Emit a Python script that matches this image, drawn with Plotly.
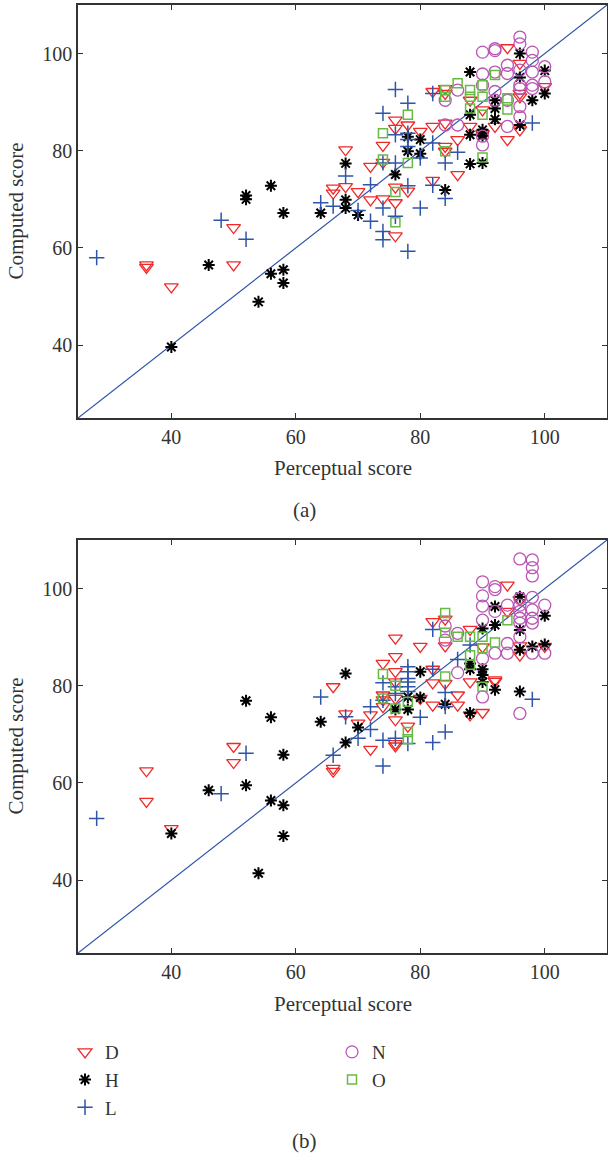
import plotly.graph_objects as go

# ---------------- data: panel (a) ----------------
a_D_x = [36, 36, 40, 50, 50, 66, 66, 68, 68, 70, 72, 72, 74, 74, 74, 76, 76, 76, 76, 76, 78, 78, 80, 82, 82, 82,
         84, 84, 84, 84, 84, 86, 86, 88, 88, 90, 90, 92, 94, 94, 96, 96, 96, 96, 100]
a_D_y = [56.5, 56, 52, 64.2, 56.5, 72.3, 71.3, 80.2, 72.6, 71.6, 76.8, 69.9, 81.1, 77.6, 70.1, 86.3, 84.6, 72.5, 69.3, 62.5,
         85.3, 71.7, 84, 85, 92.2, 73.9, 92.8, 91.8, 85.7, 80.9, 79.9, 82.3, 75.1, 90.4, 85, 88.4, 83.5, 85, 101.2, 82.3,
         98, 91.8, 91.1, 84.3, 93.2]
a_H_x = [40, 46, 52, 52, 54, 56, 56, 58, 58, 58, 64, 68, 68, 68, 70, 76, 78, 78, 80, 80, 84, 88, 88, 88, 88,
         90, 90, 90, 90, 92, 92, 92, 96, 96, 96, 98, 100, 100]
a_H_y = [39.6, 56.5, 70, 70.8, 48.9, 72.8, 54.7, 67.2, 55.5, 52.8, 67.2, 77.4, 69.9, 68.2, 66.8, 75.1, 82.9, 79.9, 82.3, 79.4,
         71.9, 96.2, 87.4, 83.3, 77.3, 84.3, 83.6, 83.1, 77.5, 90.4, 88.7, 86.5, 100, 95.1, 85.3, 90.4, 96.5, 91.8]
a_L_x = [28, 48, 52, 64, 66, 68, 70, 72, 72, 74, 74, 74, 74, 74, 76, 76, 76, 76, 78, 78, 78, 78, 78, 78, 80, 80,
         82, 82, 82, 84, 84, 86, 98]
a_L_y = [58, 65.7, 61.8, 69.3, 68.6, 74.8, 67.7, 73, 65.5, 87.7, 77.5, 68.2, 63.4, 61.7, 92.6, 83.3, 77.5, 66.5,
         89.8, 83.6, 82.3, 80.9, 72.8, 59.3, 78.5, 68.2, 91.8, 81.6, 72.9, 77.5, 70.2, 79.7, 85.7]
a_N_x = [84, 84, 86, 86, 90, 90, 90, 90, 90, 92, 92, 92, 92, 92, 94, 94, 94, 94, 96, 96, 96, 96, 96, 96, 96,
         98, 98, 98, 98, 98, 100, 100]
a_N_y = [90.4, 85.3, 92.5, 85.3, 100.3, 95.8, 93.5, 83, 81.2, 101, 100.6, 96.2, 92.2, 90.4, 97.6, 95.9, 90.4, 85,
         103.4, 102, 96.6, 93.5, 92.8, 89.1, 87, 100.3, 98.6, 96.2, 93.5, 92.8, 97.3, 94.2]
a_O_x = [74, 74, 76, 76, 78, 78, 84, 84, 84, 86, 88, 88, 88, 90, 90, 90, 90, 92, 94, 94]
a_O_y = [83.6, 78.2, 71.5, 65.3, 87.4, 77.5, 92.5, 91.1, 79.9, 93.9, 92.5, 91.1, 88.7, 93.5, 91.1, 87.4, 78.6, 95.6,
         90.8, 88.5]

# ---------------- data: panel (b) ----------------
b_D_x = [36, 36, 40, 50, 50, 66, 66, 66, 68, 70, 72, 72, 74, 74, 74, 74, 76, 76, 76, 76, 76, 76, 76, 76,
         78, 80, 80, 82, 82, 82, 82, 84, 84, 84, 86, 86, 88, 88, 88, 90, 90, 92, 92, 94, 94, 96, 96, 96, 100]
b_D_y = [62.5, 56.2, 50.6, 67.5, 64.2, 79.8, 63, 62.4, 74.2, 72.3, 74, 66.9, 84.6, 78.1, 77.1, 75.7, 89.8, 86, 82.9,
         80.8, 77.4, 73, 68.1, 67.6, 71.7, 88.1, 77.4, 93.2, 83.4, 80.6, 76, 93.7, 88.2, 80.5, 78.1, 76, 91.6, 80.8, 74,
         88, 74.5, 81.2, 80.9, 100.7, 95.3, 97.7, 88.2, 86.3, 88.1]
b_H_x = [40, 46, 52, 52, 54, 56, 56, 58, 58, 58, 64, 68, 68, 70, 76, 78, 78, 80, 80, 84, 88, 88, 88, 90, 90, 90,
         90, 92, 92, 92, 96, 96, 96, 96, 98, 100, 100]
b_H_y = [49.6, 58.5, 59.5, 76.9, 41.4, 73.5, 56.4, 65.8, 55.4, 49.1, 72.6, 82.5, 68.3, 71.4, 75.1, 77.7, 75.1, 82.9,
         77.6, 76.2, 84.6, 83.4, 74.4, 83.4, 82.2, 80.8, 91.8, 96.3, 92.5, 79.2, 98.3, 91.5, 87.4, 78.8, 88.1, 94.4, 88.5]
b_L_x = [28, 48, 52, 64, 66, 68, 70, 72, 72, 74, 74, 74, 74, 76, 76, 76, 78, 78, 78, 78, 78, 78, 78, 80, 82, 82,
         82, 84, 84, 84, 86, 88, 98]
b_L_y = [52.7, 57.8, 66.1, 77.7, 65.7, 73.6, 69.2, 75.7, 71, 80.6, 77, 68.8, 63.5, 79.8, 78.4, 69.2, 83.9, 82.9,
         81.5, 80.8, 79.8, 78.8, 68.1, 73.5, 91.6, 83.4, 68.3, 78.6, 75.7, 70.5, 85.4, 88.4, 77.2]
b_N_x = [84, 84, 86, 86, 90, 90, 90, 90, 90, 90, 92, 92, 92, 92, 94, 94, 94, 96, 96, 96, 96, 96, 96, 96, 96,
         98, 98, 98, 98, 98, 98, 98, 98, 100, 100]
b_N_y = [92.3, 89.4, 90.8, 82.7, 101.4, 98.5, 96.4, 93.5, 85.6, 77.7, 100.4, 99.8, 95.3, 86.7, 96.6, 88.7, 86.7,
         106.1, 98, 96.6, 95.3, 93.9, 92.9, 90.1, 74.3, 105.9, 104.3, 102.6, 98.2, 95.6, 93.9, 92.9, 86.7, 96.6, 86.7]
b_O_x = [74, 74, 76, 76, 78, 78, 78, 84, 84, 84, 86, 88, 88, 88, 90, 90, 90, 92, 94]
b_O_y = [82.4, 77.4, 80, 75.3, 76.7, 70.5, 69, 95, 90.9, 81.9, 90.1, 90.1, 86.3, 84.3, 90.1, 87.7, 79.8, 88.9, 93.5]

diag = [25, 110]
tick_vals = [40, 60, 80, 100]

# ---------------- styling ----------------
W, H = 608, 1155
FONT = "Liberation Serif"
TXT = "#333333"
styles = {
    "D": dict(symbol="triangle-down-open", size=12, color="#f02828", lw=1.3),
    "H": dict(symbol="asterisk-open", size=10, color="#000000", lw=2.0),
    "L": dict(symbol="cross-thin-open", size=11, color="#2f55a8", lw=1.5),
    "N": dict(symbol="circle-open", size=12, color="#bb55b5", lw=1.3),
    "O": dict(symbol="square-open", size=9, color="#66bb44", lw=1.5),
}

fig = go.Figure()

def add_panel(xa, ya, data, show, legend_map):
    fig.add_trace(go.Scatter(x=diag, y=diag, mode="lines", line=dict(color="#2f55a8", width=1.2),
                             xaxis=xa, yaxis=ya, showlegend=False, hoverinfo="skip"))
    for name, (xs, ys) in data.items():
        s = styles[name]
        fig.add_trace(go.Scatter(
            x=xs, y=ys, mode="markers", name=name, xaxis=xa, yaxis=ya,
            showlegend=show, legend=legend_map.get(name, "legend"),
            marker=dict(symbol=s["symbol"], size=s["size"], color=s["color"],
                        line=dict(color=s["color"], width=s["lw"]))))

lmap = {"D": "legend", "H": "legend", "L": "legend", "N": "legend2", "O": "legend2"}
add_panel("x", "y", {"D": (a_D_x, a_D_y), "H": (a_H_x, a_H_y), "L": (a_L_x, a_L_y),
                     "N": (a_N_x, a_N_y), "O": (a_O_x, a_O_y)}, False, lmap)
add_panel("x2", "y2", {"D": (b_D_x, b_D_y), "H": (b_H_x, b_H_y), "L": (b_L_x, b_L_y),
                       "N": (b_N_x, b_N_y), "O": (b_O_x, b_O_y)}, True, lmap)

def px_y(p):
    return 1 - p / H

xdom = [78 / W, 607 / W]
axis_common = dict(range=[25, 110], tickvals=tick_vals, ticks="inside", ticklen=5, tickwidth=1.2,
                   tickcolor=TXT, showline=True, linecolor=TXT, linewidth=1.5, mirror="ticks",
                   showgrid=False, zeroline=False, tickfont=dict(family=FONT, size=20, color=TXT))

leg_font = dict(family=FONT, size=19, color=TXT)
fig.update_layout(
    width=W, height=H, margin=dict(l=0, r=0, t=0, b=0),
    paper_bgcolor="white", plot_bgcolor="white",
    xaxis=dict(domain=xdom, anchor="y", **axis_common),
    yaxis=dict(domain=[px_y(418), px_y(5)], anchor="x", **axis_common),
    xaxis2=dict(domain=xdom, anchor="y2", **axis_common),
    yaxis2=dict(domain=[px_y(953), px_y(540)], anchor="x2", **axis_common),
    legend=dict(x=65 / W, y=px_y(1033), xanchor="left", yanchor="top", orientation="v",
                font=leg_font, bgcolor="rgba(0,0,0,0)", tracegroupgap=0, itemwidth=30),
    legend2=dict(x=332 / W, y=px_y(1033), xanchor="left", yanchor="top", orientation="v",
                 font=leg_font, bgcolor="rgba(0,0,0,0)", tracegroupgap=0, itemwidth=30),
    showlegend=True,
)

ann_font = dict(family=FONT, size=21, color=TXT)
xc = (78 + 607) / 2 / W
for yt, lab in [(468, "Perceptual score"), (1004, "Perceptual score")]:
    fig.add_annotation(x=xc, y=px_y(yt), xref="paper", yref="paper", text=lab, showarrow=False,
                       font=ann_font, xanchor="center", yanchor="middle")
for yc in [(5 + 418) / 2, (540 + 953) / 2]:
    fig.add_annotation(x=15 / W, y=px_y(yc), xref="paper", yref="paper", text="Computed score",
                       showarrow=False, font=ann_font, textangle=-90, xanchor="center", yanchor="middle")
fig.add_annotation(x=0.5, y=px_y(510), xref="paper", yref="paper", text="(a)", showarrow=False,
                   font=ann_font, xanchor="center", yanchor="middle")
fig.add_annotation(x=0.5, y=px_y(1141), xref="paper", yref="paper", text="(b)", showarrow=False,
                   font=ann_font, xanchor="center", yanchor="middle")

fig.write_html("out.html", config={"displayModeBar": False},
               post_script="document.body.style.margin='0';document.body.style.padding='0';"
                           "document.body.style.overflow='hidden';")
